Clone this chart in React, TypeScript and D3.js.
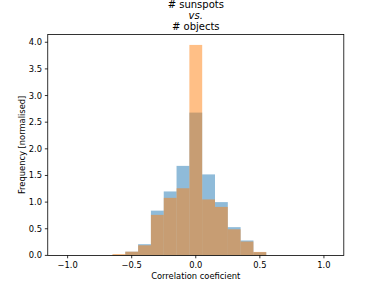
import React from "react";
import * as d3 from "d3";

const binCenters = [-0.6, -0.5, -0.4, -0.3, -0.2, -0.1, 0.0, 0.1, 0.2, 0.3, 0.4, 0.5];
const sunspotsFreq = [0.01, 0.07, 0.21, 0.84, 1.2, 1.68, 2.68, 1.52, 1.0, 0.53, 0.28, 0.06];
const objectsFreq = [0.025, 0.07, 0.19, 0.76, 1.08, 1.26, 3.95, 1.05, 0.91, 0.49, 0.26, 0.065];
const binWidth = 0.1;
const xTicks = [-1.0, -0.5, 0.0, 0.5, 1.0];
const yTicks = [0, 0.5, 1.0, 1.5, 2.0, 2.5, 3.0, 3.5, 4.0];
const titleLines = ["# sunspots", "vs.", "# objects"];
const xLabel = "Correlation coeficient";
const yLabel = "Frequency [normalised]";

const W = 382;
const H = 287;
const L = 47.75;
const R = 343.8;
const T = 34.4;
const B = 255.4;

export default function App() {
  const x = d3.scaleLinear().domain([-1.155, 1.155]).range([L, R]);
  const y = d3.scaleLinear().domain([0, 4.1475]).range([B, T]);
  const font = "DejaVu Sans, sans-serif";
  const series = [
    { vals: sunspotsFreq, color: "#1f77b4" },
    { vals: objectsFreq, color: "#ff7f0e" },
  ];
  return (
    <svg width={W} height={H} style={{ position: "absolute", left: 0, top: 0 }}>
      <rect x={0} y={0} width={W} height={H} fill="#fff" />
      {series.map((s, si) => (
        <g key={si}>
          {binCenters.map((c, i) => (
            <rect
              key={i}
              x={x(c - binWidth / 2)}
              width={x(c + binWidth / 2) - x(c - binWidth / 2)}
              y={y(s.vals[i])}
              height={y(0) - y(s.vals[i])}
              fill={s.color}
              fillOpacity={0.5}
            />
          ))}
        </g>
      ))}
      <rect x={L} y={T} width={R - L} height={B - T} fill="none" stroke="#000" strokeWidth={0.8} />
      {xTicks.map((t) => (
        <g key={t}>
          <line x1={x(t)} x2={x(t)} y1={B} y2={B + 2.9} stroke="#000" strokeWidth={0.8} />
          <text x={x(t)} y={B + 12.5} fontSize={8.33} fontFamily={font} textAnchor="middle">
            {t < 0 ? "\u2212" + Math.abs(t).toFixed(1) : t.toFixed(1)}
          </text>
        </g>
      ))}
      {yTicks.map((t) => (
        <g key={t}>
          <line x1={L - 2.9} x2={L} y1={y(t)} y2={y(t)} stroke="#000" strokeWidth={0.8} />
          <text x={L - 5.8} y={y(t) + 3} fontSize={8.33} fontFamily={font} textAnchor="end">
            {t.toFixed(1)}
          </text>
        </g>
      ))}
      <text x={(L + R) / 2} y={279} fontSize={8.33} fontFamily={font} textAnchor="middle">
        {xLabel}
      </text>
      <text
        transform={`translate(${24.5},${(T + B) / 2}) rotate(-90)`}
        fontSize={8.33}
        fontFamily={font}
        textAnchor="middle"
      >
        {yLabel}
      </text>
      {titleLines.map((line, i) => (
        <text
          key={i}
          x={(L + R) / 2}
          y={8 + i * 10.8}
          fontSize={10}
          fontFamily={font}
          fontStyle={i === 1 ? "italic" : "normal"}
          textAnchor="middle"
        >
          {line}
        </text>
      ))}
    </svg>
  );
}
